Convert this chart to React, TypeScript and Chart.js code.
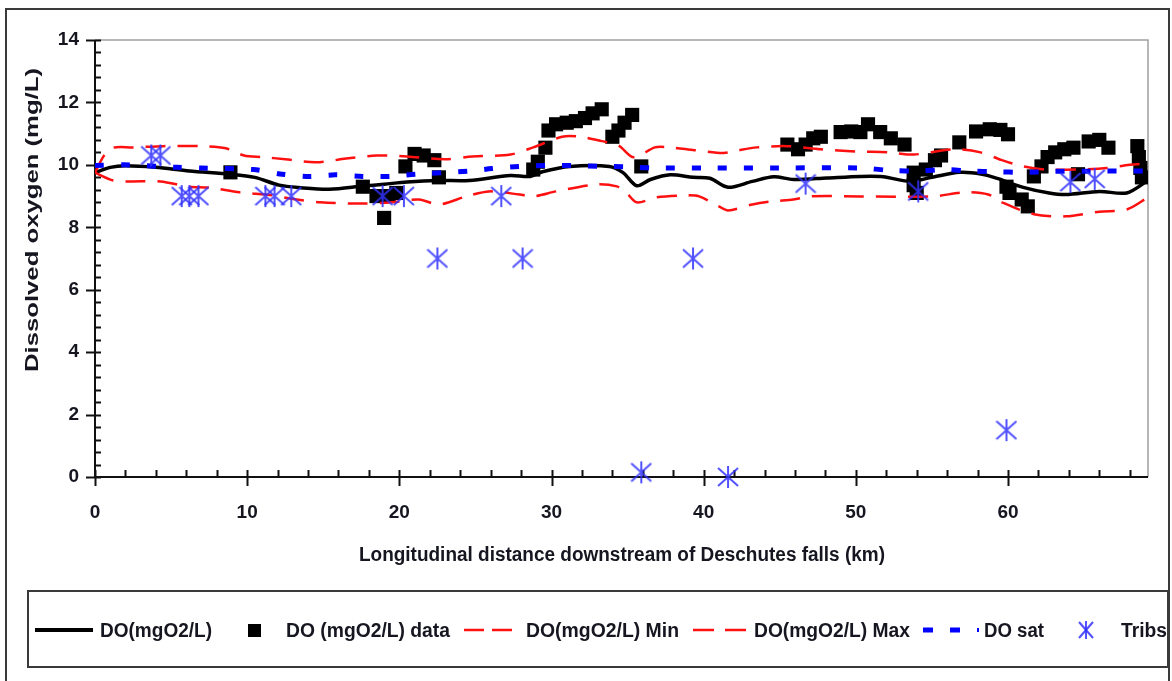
import { useEffect, useRef } from "react";
import { Chart, registerables } from "chart.js";
Chart.register(...registerables);

// ---- Data ----
const modelKm = [0, 1.0, 2.0, 4.0, 6.2, 8.9, 10.5, 12.1, 13.5, 15.4, 17.6, 19.0, 20.5, 22.5, 24.6, 27.3, 28.6, 29.4, 31.2, 33.8, 34.7, 35.6, 36.5, 37.8, 39.3, 40.4, 41.6, 43.2, 44.6, 45.9, 48.1, 50.3, 51.8, 53.5, 55.0, 56.8, 58.3, 59.4, 61.0, 62.7, 63.8, 66.0, 67.8, 69.2];
const modelDO = [9.75, 9.92, 9.97, 9.92, 9.8, 9.7, 9.6, 9.35, 9.27, 9.22, 9.32, 9.38, 9.45, 9.5, 9.5, 9.66, 9.63, 9.78, 9.95, 9.95, 9.75, 9.33, 9.53, 9.68, 9.6, 9.57, 9.28, 9.47, 9.62, 9.53, 9.58, 9.63, 9.62, 9.47, 9.6, 9.76, 9.7, 9.55, 9.28, 9.1, 9.05, 9.15, 9.1, 9.5];

const dataKm = [8.9, 17.6, 18.5, 19.0, 19.3, 19.8, 20.4, 21.0, 21.6, 22.3, 22.6, 28.8, 29.1, 29.6, 29.8, 30.3, 31.0, 31.6, 32.2, 32.7, 33.3, 34.0, 34.4, 34.8, 35.3, 35.9, 45.5, 46.2, 46.7, 47.2, 47.7, 49.0, 49.7, 50.3, 50.8, 51.6, 52.3, 53.2, 53.8, 53.8, 54.0, 54.6, 55.2, 55.6, 56.8, 57.9, 58.8, 59.5, 60.0, 59.9, 60.1, 60.9, 61.3, 61.7, 62.2, 62.6, 63.1, 63.7, 64.3, 64.6, 65.3, 66.0, 66.6, 68.5, 68.6, 68.7, 68.8];
const dataDO = [9.76, 9.3, 9.0, 8.3, 9.0, 9.1, 9.95, 10.35, 10.3, 10.15, 9.6, 9.85, 10.1, 10.55, 11.1, 11.3, 11.35, 11.4, 11.5, 11.65, 11.78, 10.9, 11.1, 11.35, 11.6, 9.95, 10.65, 10.5, 10.65, 10.85, 10.9, 11.05, 11.07, 11.05, 11.3, 11.05, 10.85, 10.65, 9.75, 9.35, 9.1, 9.85, 10.15, 10.3, 10.72, 11.07, 11.14, 11.12, 10.98, 9.3, 9.1, 8.89, 8.67, 9.63, 9.95, 10.25, 10.4, 10.5, 10.55, 9.7, 10.75, 10.8, 10.55, 10.6, 10.25, 9.9, 9.6];

const minKm = [0, 1.2, 2.3, 4.3, 6.2, 7.5, 9.5, 11.7, 12.8, 14.8, 17.6, 19.5, 21.3, 22.6, 24.4, 25.9, 27.9, 28.8, 30.3, 32.9, 34.3, 34.9, 35.6, 36.9, 38.8, 39.7, 41.0, 41.6, 43.2, 44.5, 45.9, 47.0, 50.3, 55.0, 57.2, 58.7, 59.6, 61.7, 63.8, 66.0, 67.8, 69.2];
const minDO = [9.75, 9.5, 9.47, 9.47, 9.3, 9.27, 9.12, 9.02, 8.92, 8.8, 8.76, 8.8, 8.89, 8.73, 8.99, 9.15, 9.05, 8.99, 9.15, 9.37, 9.31, 9.12, 8.8, 8.96, 9.02, 8.99, 8.67, 8.54, 8.73, 8.83, 8.89, 8.99, 8.99, 8.99, 9.12, 9.05, 8.8, 8.42, 8.35, 8.5, 8.57, 8.96];

const maxKm = [0, 0.6, 1.2, 2.5, 4.5, 6.9, 8.6, 9.8, 11.0, 12.5, 14.5, 16.5, 18.5, 20.5, 23.0, 24.8, 27.3, 28.8, 30.7, 31.9, 33.3, 34.4, 35.4, 36.8, 37.8, 39.4, 41.3, 42.1, 43.5, 45.5, 47.7, 50.0, 52.2, 53.8, 56.4, 58.2, 59.6, 61.0, 62.5, 64.5, 66.5, 68.0, 69.2];
const maxDO = [9.75, 10.3, 10.55, 10.56, 10.6, 10.6, 10.53, 10.3, 10.25, 10.18, 10.08, 10.2, 10.3, 10.27, 10.18, 10.27, 10.33, 10.56, 10.9, 10.9, 10.76, 10.62, 10.24, 10.56, 10.56, 10.47, 10.38, 10.45, 10.56, 10.6, 10.5, 10.43, 10.4, 10.33, 10.5, 10.4, 10.15, 9.95, 9.85, 9.85, 9.9, 10.0, 10.05];

const satKm = [0, 1.9, 5.4, 7.0, 10.4, 12.3, 14.1, 15.8, 17.6, 19.4, 21.1, 24.6, 26.1, 27.9, 29.7, 31.4, 33.2, 34.9, 36.7, 40.0, 45.0, 50.3, 52.3, 54.2, 55.9, 57.5, 59.2, 60.9, 62.9, 66.2, 69.2];
const satDO = [9.98, 10.0, 9.92, 9.9, 9.85, 9.7, 9.63, 9.68, 9.63, 9.63, 9.7, 9.8, 9.88, 9.95, 9.98, 9.98, 9.95, 9.94, 9.9, 9.9, 9.9, 9.9, 9.82, 9.8, 9.85, 9.8, 9.78, 9.76, 9.79, 9.8, 9.8];

const tribKm = [3.7, 4.3, 5.7, 6.2, 6.8, 11.2, 11.8, 12.9, 18.9, 20.3, 22.5, 26.7, 28.1, 35.9, 39.3, 41.6, 46.7, 54.1, 59.9, 64.1, 65.7];
const tribDO = [10.3, 10.3, 9.0, 9.0, 9.0, 9.0, 9.0, 9.0, 9.0, 9.0, 7.0, 9.0, 7.0, 0.15, 7.0, 0.0, 9.4, 9.15, 1.5, 9.45, 9.55];

const xTicks = [0, 10, 20, 30, 40, 50, 60];
const yTicks = [0, 2, 4, 6, 8, 10, 12, 14];

const xTitle = "Longitudinal distance downstream of Deschutes falls (km)";
const yTitle = "Dissolved oxygen (mg/L)";
const seriesNames = ["DO(mgO2/L)", "DO (mgO2/L) data", "DO(mgO2/L) Min", "DO(mgO2/L) Max", "DO sat", "Tribs"];

const SANS = "'Liberation Sans', Arial, sans-serif";
const TEXT = "#161620";
const STAR = "rgba(50,50,255,0.85)";

function pts(xs: number[], ys: number[]) {
  return xs.map((x, i) => ({ x, y: ys[i] }));
}

function makeStar(): HTMLCanvasElement {
  const c = document.createElement("canvas");
  c.width = 22;
  c.height = 24;
  const g = c.getContext("2d")!;
  g.strokeStyle = STAR;
  g.lineWidth = 2;
  g.beginPath();
  g.moveTo(11, 1); g.lineTo(11, 23);
  g.moveTo(1, 3); g.lineTo(21, 21);
  g.moveTo(21, 3); g.lineTo(1, 21);
  g.stroke();
  return c;
}

function fitText(ctx: CanvasRenderingContext2D, text: string, cx: number, cy: number, width: number) {
  const w = ctx.measureText(text).width;
  ctx.save();
  ctx.translate(cx, cy);
  ctx.scale(width / w, 1);
  ctx.fillText(text, 0, 0);
  ctx.restore();
}

const axesPlugin = {
  id: "axesDeco",
  beforeDatasetsDraw(chart: any) {
    const { ctx, chartArea } = chart;
    const { left, right, top, bottom } = chartArea;
    const xs = chart.scales.x;
    const ys = chart.scales.y;
    ctx.save();
    ctx.strokeStyle = "#a0a0a0";
    ctx.lineWidth = 1.5;
    ctx.beginPath();
    ctx.moveTo(left, top); ctx.lineTo(right, top); ctx.lineTo(right, bottom);
    ctx.stroke();
    ctx.strokeStyle = "#111";
    ctx.lineWidth = 2;
    ctx.beginPath();
    ctx.moveTo(left, top); ctx.lineTo(left, bottom); ctx.lineTo(right, bottom);
    for (let i = 0; i <= 35; i++) {
      const py = Math.round(ys.getPixelForValue(i * 0.4)) + 0.5;
      const major = i % 5 === 0;
      ctx.moveTo(major ? left - 9 : left, py);
      ctx.lineTo(left + 6, py);
    }
    for (let v = 0; v <= 68; v += 2) {
      const px = Math.round(xs.getPixelForValue(v)) + 0.5;
      const major = v % 10 === 0;
      ctx.moveTo(px, major ? bottom + 9 : bottom);
      ctx.lineTo(px, bottom - 7);
    }
    ctx.stroke();
    ctx.restore();
  },
  afterDraw(chart: any) {
    const { ctx } = chart;
    ctx.save();
    ctx.fillStyle = TEXT;
    ctx.textAlign = "center";
    ctx.textBaseline = "middle";
    ctx.font = `bold 20px ${SANS}`;
    fitText(ctx, xTitle, 622, 555, 526);
    ctx.translate(33, 220);
    ctx.rotate(-Math.PI / 2);
    ctx.font = `bold 19px ${SANS}`;
    fitText(ctx, yTitle, 0, 0, 304);
    ctx.restore();
  },
};

export default function App() {
  const ref = useRef<HTMLCanvasElement>(null);
  useEffect(() => {
    const star = makeStar();
    const chart = new Chart(ref.current!, {
      type: "line",
      data: {
        datasets: [
          { label: seriesNames[0], data: pts(modelKm, modelDO), borderColor: "#000", borderWidth: 3.5, pointRadius: 0, tension: 0.3, fill: false, order: 5 },
          { label: seriesNames[1], data: pts(dataKm, dataDO), showLine: false, pointStyle: "rect", pointRadius: 10, backgroundColor: "#000", borderColor: "#000", borderWidth: 0, order: 4 },
          { label: seriesNames[2], data: pts(minKm, minDO), borderColor: "#ff1010", borderWidth: 2.5, borderDash: [20, 12], pointRadius: 0, tension: 0.3, fill: false, order: 3 },
          { label: seriesNames[3], data: pts(maxKm, maxDO), borderColor: "#ff1010", borderWidth: 2.5, borderDash: [20, 12], pointRadius: 0, tension: 0.3, fill: false, order: 2 },
          { label: seriesNames[4], data: pts(satKm, satDO), borderColor: "#0000ff", borderWidth: 5, borderDash: [9, 17], pointRadius: 0, tension: 0.3, fill: false, order: 1 },
          { label: seriesNames[5], data: pts(tribKm, tribDO), showLine: false, pointStyle: star as any, pointRadius: 11, clip: false as any, order: 0 },
        ] as any,
      },
      options: {
        animation: false,
        responsive: false,
        events: [],
        layout: { padding: { top: 40, right: 24, left: 0, bottom: 0 } },
        plugins: { legend: { display: false }, tooltip: { enabled: false } },
        scales: {
          x: {
            type: "linear",
            min: 0,
            max: 69.2,
            afterFit: (s: any) => { s.height = 204; },
            afterBuildTicks: (s: any) => { s.ticks = xTicks.map((v) => ({ value: v })); },
            grid: { display: false, drawTicks: false },
            border: { display: false },
            ticks: { padding: 24, color: TEXT, font: { family: SANS, size: 19, weight: "bold" } },
          },
          y: {
            type: "linear",
            min: 0,
            max: 14,
            afterFit: (s: any) => { s.width = 95; },
            afterBuildTicks: (s: any) => { s.ticks = yTicks.map((v) => ({ value: v })); },
            grid: { display: false, drawTicks: false },
            border: { display: false },
            ticks: { padding: 16, color: TEXT, font: { family: SANS, size: 19, weight: "bold" } },
          },
        },
      } as any,
      plugins: [axesPlugin],
    });
    return () => chart.destroy();
  }, []);

  const textX = [100, 286, 526, 754, 984, 1121];
  const textW = [112, 164, 153, 156, 60, 46];

  return (
    <div style={{ position: "absolute", left: 0, top: 0, width: 1172, height: 681, overflow: "hidden", background: "#fff" }}>
      <canvas ref={ref} width={1172} height={681} style={{ position: "absolute", left: 0, top: 0, width: 1172, height: 681 }} />
      <div style={{ position: "absolute", left: 5, top: 8, width: 1161, height: 700, border: "2px solid #3a3a3a" }} />
      <div style={{ position: "absolute", left: 27, top: 590, width: 1138, height: 74, border: "2px solid #3a3a3a" }} />
      <svg width={1172} height={681} style={{ position: "absolute", left: 0, top: 0 }}>
        <line x1={35} y1={630} x2={93} y2={630} stroke="#000" strokeWidth={4} />
        <rect x={248} y={624} width={13} height={13} fill="#000" />
        <line x1={464} y1={630} x2={484} y2={630} stroke="#ff1010" strokeWidth={2.5} />
        <line x1={492} y1={630} x2={512} y2={630} stroke="#ff1010" strokeWidth={2.5} />
        <line x1={693} y1={630} x2={714} y2={630} stroke="#ff1010" strokeWidth={2.5} />
        <line x1={725} y1={630} x2={746} y2={630} stroke="#ff1010" strokeWidth={2.5} />
        <line x1={923} y1={630} x2={933} y2={630} stroke="#0000ff" strokeWidth={5} />
        <line x1={950} y1={630} x2={960} y2={630} stroke="#0000ff" strokeWidth={5} />
        <line x1={978} y1={628} x2={978} y2={632} stroke="#0000ff" strokeWidth={2} />
        <g stroke={STAR} strokeWidth={2}>
          <line x1={1086} y1={621} x2={1086} y2={639} />
          <line x1={1079} y1={622} x2={1093} y2={638} />
          <line x1={1093} y1={622} x2={1079} y2={638} />
        </g>
        {seriesNames.map((n, i) => (
          <text key={n} x={textX[i]} y={637} textLength={textW[i]} lengthAdjust="spacingAndGlyphs"
            style={{ font: `bold 20px ${SANS}`, fill: TEXT }}>{n}</text>
        ))}
      </svg>
    </div>
  );
}
